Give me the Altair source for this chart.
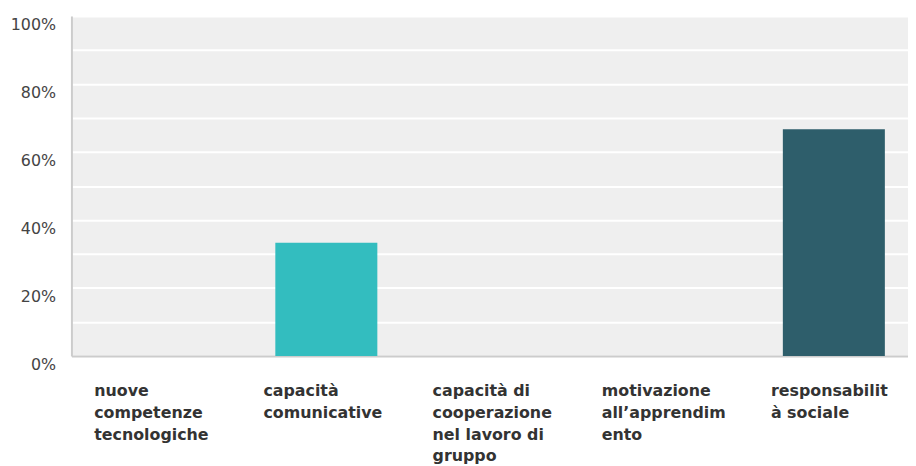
import altair as alt
import pandas as pd

categories = [
    "nuove\ncompetenze\ntecnologiche",
    "capacità\ncomunicative",
    "capacità di\ncooperazione\nnel lavoro di\ngruppo",
    "motivazione\nall’apprendim\nento",
    "responsabilit\nà sociale",
]
values = [0.0, 0.333, 0.0, 0.0, 0.667]
colors = ["#8fc31f", "#33bdbf", "#f0a830", "#e8615a", "#2e5e6b"]
y_ticks = [0.0, 0.1, 0.2, 0.3, 0.4, 0.5, 0.6, 0.7, 0.8, 0.9, 1.0]

df = pd.DataFrame({"cat": categories, "val": values})

chart = alt.Chart(df).mark_bar().encode(
    x=alt.X(
        "cat:N",
        sort=categories,
        scale=alt.Scale(paddingInner=0.397, paddingOuter=0.171, align=0.6),
        axis=alt.Axis(
            title=None,
            grid=False,
            domain=True,
            domainColor="#cccccc",
            domainWidth=2,
            ticks=False,
            labelAngle=0,
            labelAlign="left",
            labelBaseline="top",
            labelOffset=-63.5,
            labelPadding=27,
            labelFont="DejaVu Sans",
            labelFontSize=16,
            labelFontWeight="bold",
            labelColor="#333333",
            labelLineHeight=22,
            labelOverlap=False,
            labelBound=False,
            labelLimit=300,
            labelExpr="split(datum.label, '\\n')",
        ),
    ),
    y=alt.Y(
        "val:Q",
        scale=alt.Scale(domain=[0, 1], nice=False),
        axis=alt.Axis(
            title=None,
            values=y_ticks,
            format=".0%",
            grid=True,
            gridColor="#ffffff",
            gridWidth=2,
            domain=True,
            domainColor="#cccccc",
            domainWidth=2,
            ticks=False,
            labelPadding=16,
            labelFont="DejaVu Sans",
            labelFontSize=16,
            labelColor="#444444",
            labelOffset=9,
            labelOverlap=False,
            labelExpr="round(datum.value * 10) % 2 == 0 ? datum.label : ''",
        ),
    ),
    color=alt.Color("cat:N", scale=alt.Scale(domain=categories, range=colors), legend=None),
).properties(
    width=844,
    height=343,
    padding={"left": 64, "top": 6, "right": 0, "bottom": 110},
    autosize=alt.AutoSizeParams(type="none"),
).configure_view(fill="#efefef", stroke="transparent")

chart.save("out.html", embed_options={"renderer": "svg", "actions": False})
